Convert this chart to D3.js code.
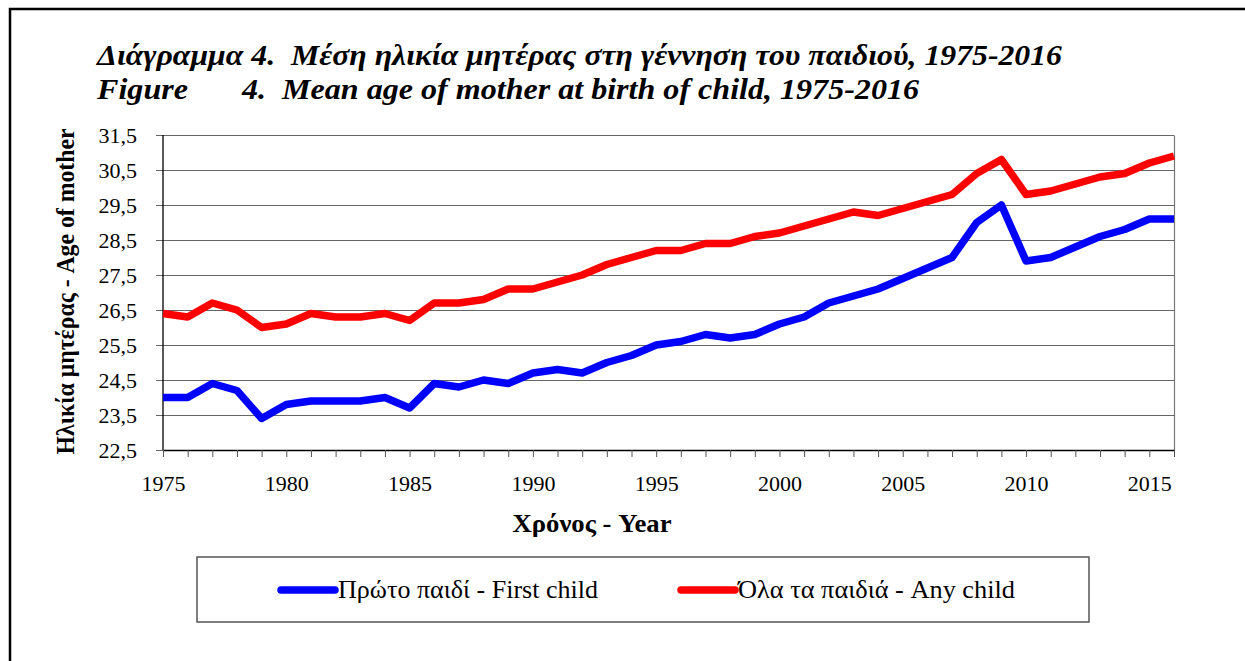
<!DOCTYPE html>
<html>
<head>
<meta charset="utf-8">
<script src="https://cdn.jsdelivr.net/npm/d3@7"></script>
<style>
  body { margin: 0; background: #fff; }
  svg { display: block; }
  text { font-family: "Liberation Serif", "Times New Roman", serif; fill: #000; }
</style>
</head>
<body>
<div id="chart"></div>
<script>
// data
var years = [1975, 1976, 1977, 1978, 1979, 1980, 1981, 1982, 1983, 1984,
             1985, 1986, 1987, 1988, 1989, 1990, 1991, 1992, 1993, 1994,
             1995, 1996, 1997, 1998, 1999, 2000, 2001, 2002, 2003, 2004,
             2005, 2006, 2007, 2008, 2009, 2010, 2011, 2012, 2013, 2014,
             2015, 2016];

var firstChild = [24.0, 24.0, 24.4, 24.2, 23.4, 23.8, 23.9, 23.9, 23.9, 24.0,
                  23.7, 24.4, 24.3, 24.5, 24.4, 24.7, 24.8, 24.7, 25.0, 25.2,
                  25.5, 25.6, 25.8, 25.7, 25.8, 26.1, 26.3, 26.7, 26.9, 27.1,
                  27.4, 27.7, 28.0, 29.0, 29.5, 27.9, 28.0, 28.3, 28.6, 28.8,
                  29.1, 29.1];

var anyChild = [26.4, 26.3, 26.7, 26.5, 26.0, 26.1, 26.4, 26.3, 26.3, 26.4,
                26.2, 26.7, 26.7, 26.8, 27.1, 27.1, 27.3, 27.5, 27.8, 28.0,
                28.2, 28.2, 28.4, 28.4, 28.6, 28.7, 28.9, 29.1, 29.3, 29.2,
                29.4, 29.6, 29.8, 30.4, 30.8, 29.8, 29.9, 30.1, 30.3, 30.4,
                30.7, 30.9];

var yTicks = [22.5, 23.5, 24.5, 25.5, 26.5, 27.5, 28.5, 29.5, 30.5, 31.5];
var xLabels = [1975, 1980, 1985, 1990, 1995, 2000, 2005, 2010, 2015];

var seriesNames = ["Πρώτο παιδί - First child", "Όλα τα παιδιά - Any child"];
var seriesColors = ["#0000ff", "#ff0000"];

var W = 1245, H = 661;
var plot = { left: 163, right: 1174, top: 135, bottom: 450 };
var serif = "'Liberation Serif', 'Times New Roman', serif";

var svg = d3.select("#chart").append("svg")
    .attr("width", W)
    .attr("height", H);

// outer frame (only top and left edges show)
svg.append("path")
    .attr("d", "M10," + H + "V9H" + W)
    .attr("fill", "none")
    .attr("stroke", "#000")
    .attr("stroke-width", 2.5);

// titles
var t1 = svg.append("g")
    .attr("font-weight", "bold")
    .attr("font-style", "italic")
    .style("font-size", "30px");
t1.append("text").attr("x", 97).attr("y", 65)
  .attr("textLength", 965).attr("lengthAdjust", "spacingAndGlyphs")
  .text("Διάγραμμα 4.\u00a0\u00a0Μέση ηλικία μητέρας στη γέννηση του παιδιού, 1975-2016");
t1.append("text").attr("x", 97).attr("y", 98.5)
  .attr("textLength", 91).attr("lengthAdjust", "spacingAndGlyphs")
  .text("Figure");
t1.append("text").attr("x", 242).attr("y", 98.5)
  .attr("textLength", 677).attr("lengthAdjust", "spacingAndGlyphs")
  .text("4.\u00a0\u00a0Mean age of mother at birth of child, 1975-2016");

var x = d3.scaleLinear().domain([years[0], years[years.length - 1]]).range([plot.left, plot.right]);
var y = d3.scaleLinear().domain([22.5, 31.5]).range([plot.bottom, plot.top]);

var fmt = function(d) { return d3.format(".1f")(d).replace(".", ","); };

// y axis drawn from the right edge so the ticks become gridlines
var yAxis = svg.append("g")
    .attr("transform", "translate(" + plot.right + ",0)")
    .call(d3.axisLeft(y)
        .tickValues(yTicks)
        .tickSize(plot.right - plot.left + 7)
        .tickSizeOuter(0)
        .tickPadding(19)
        .tickFormat(fmt));
yAxis.attr("font-family", null);
yAxis.select(".domain").attr("stroke", "#777").attr("stroke-width", 1.2);
yAxis.selectAll(".tick line").attr("stroke", "#666").attr("stroke-width", 1.2);
yAxis.selectAll(".tick text")
    .style("font-family", serif)
    .style("font-size", "22px")
    .attr("fill", "#000");

// left axis line
svg.append("line")
    .attr("x1", plot.left).attr("x2", plot.left)
    .attr("y1", plot.top).attr("y2", plot.bottom)
    .attr("stroke", "#000").attr("stroke-width", 1.3);

// x axis
var xAxis = svg.append("g")
    .attr("transform", "translate(0," + plot.bottom + ")")
    .call(d3.axisBottom(x)
        .tickValues(years)
        .tickSize(7)
        .tickSizeOuter(0)
        .tickPadding(18)
        .tickFormat(function(d) { return xLabels.indexOf(d) >= 0 ? d : ""; }));
xAxis.attr("font-family", null);
xAxis.select(".domain").attr("stroke", "#000").attr("stroke-width", 1.5);
xAxis.selectAll(".tick line").attr("stroke", "#555");
xAxis.selectAll(".tick text")
    .style("font-family", serif)
    .style("font-size", "22px")
    .attr("fill", "#000");

// axis titles
svg.append("text")
    .attr("transform", "translate(74," + ((plot.top + plot.bottom) / 2 - 1) + ") rotate(-90)")
    .attr("text-anchor", "middle")
    .attr("font-weight", "bold")
    .attr("textLength", 326)
    .attr("lengthAdjust", "spacingAndGlyphs")
    .style("font-size", "25px")
    .text("Ηλικία μητέρας - Age of mother");

svg.append("text")
    .attr("x", 592)
    .attr("y", 532)
    .attr("text-anchor", "middle")
    .attr("font-weight", "bold")
    .attr("textLength", 159)
    .attr("lengthAdjust", "spacingAndGlyphs")
    .style("font-size", "26px")
    .text("Χρόνος - Year");

// lines
var line = d3.line()
    .x(function(d, i) { return x(years[i]); })
    .y(function(d) { return y(d); });

[firstChild, anyChild].forEach(function(s, k) {
    svg.append("path")
        .datum(s)
        .attr("fill", "none")
        .attr("stroke", seriesColors[k])
        .attr("stroke-width", 7.5)
        .attr("stroke-linejoin", "round")
        .attr("d", line);
});

// legend
svg.append("rect")
    .attr("x", 197).attr("y", 557)
    .attr("width", 892).attr("height", 65)
    .attr("fill", "#fff")
    .attr("stroke", "#555")
    .attr("stroke-width", 1.5);

var legX = [281, 681];
var legW = [260, 277];
seriesNames.forEach(function(name, k) {
    var g = svg.append("g").attr("transform", "translate(" + legX[k] + ",590)");
    g.append("line")
        .attr("x1", 0).attr("x2", 54)
        .attr("stroke", seriesColors[k])
        .attr("stroke-width", 7.5)
        .attr("stroke-linecap", "round");
    g.append("text")
        .attr("x", 57)
        .attr("y", 8)
        .attr("textLength", legW[k])
        .attr("lengthAdjust", "spacingAndGlyphs")
        .style("font-size", "26px")
        .text(name);
});
</script>
</body>
</html>
